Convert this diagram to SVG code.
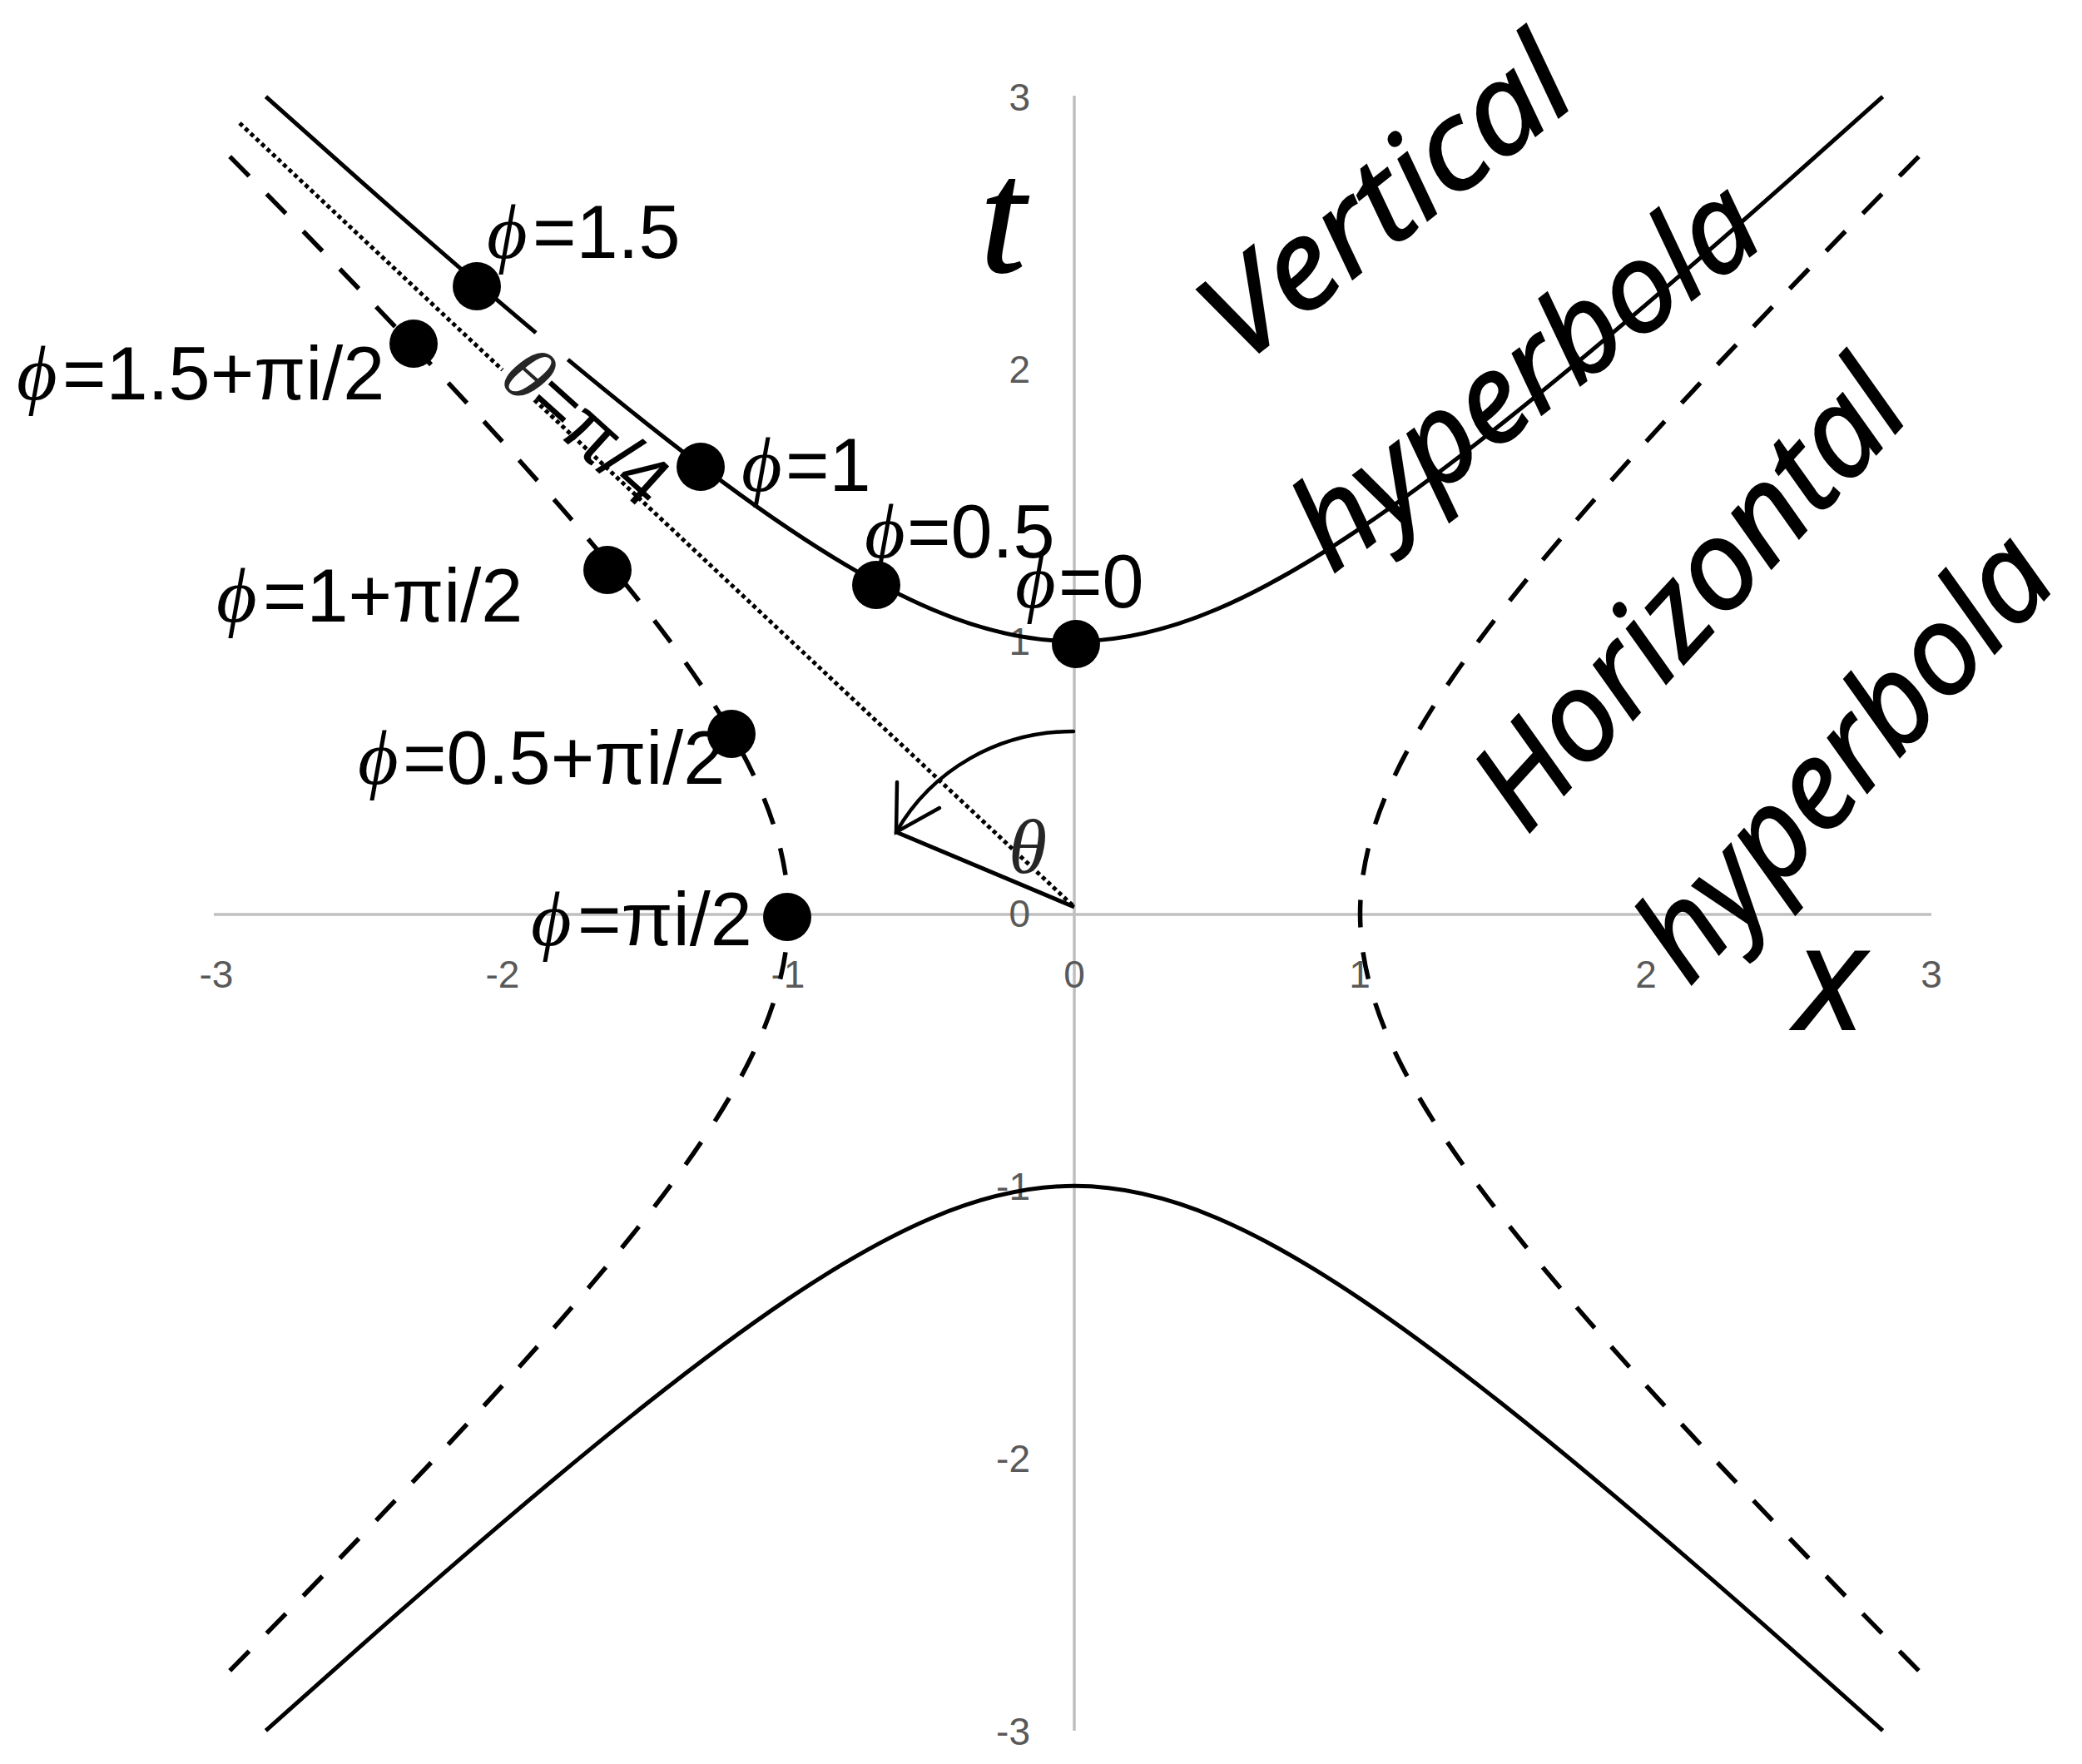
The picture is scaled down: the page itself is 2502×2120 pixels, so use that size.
<svg xmlns="http://www.w3.org/2000/svg" xmlns:xlink="http://www.w3.org/1999/xlink" width="2502" height="2120" viewBox="0 0 2502 2120">
<style>
.ax{stroke:#BFBFBF;stroke-width:3.5;fill:none}
.tick{font-family:"Liberation Sans",Arial,sans-serif;font-size:46px;fill:#595959}
.tx{text-anchor:middle}
.ty{text-anchor:end}
.solid{fill:none;stroke:#000;stroke-width:5}
.dash{fill:none;stroke:#000;stroke-width:5.5;stroke-dasharray:33 30;stroke-dashoffset:16.5}
.dot{fill:none;stroke:#000;stroke-width:5;stroke-dasharray:5 4}
.thin{fill:none;stroke:#000;stroke-width:4.5;stroke-linecap:round}
.pt{fill:#000}
.lbl{font-family:"Liberation Sans",Arial,sans-serif;font-size:90px;fill:#000}
.phi{font-family:"Liberation Serif","DejaVu Serif",serif;font-style:italic;font-size:94px}
.big{font-family:"Open Sans","Noto Sans",sans-serif;font-style:italic;font-size:148px;fill:#000;stroke:#000;stroke-width:2.5}
</style>
<defs>
<path id="vup" d="M319.44,116.1 C357.04,149.88 394.65,183.45 432.25,216.72 C489.5,267.37 546.75,317.36 604,366.15 C661.25,414.94 718.5,462.56 775.75,507.95 C833,553.34 890.25,596.56 947.5,635.13 C1004.75,673.7 1062,707.67 1119.25,732.07 C1176.5,756.47 1233.75,770.7 1291,770.7 C1348.25,770.7 1405.5,756.47 1462.75,732.07 C1520,707.67 1577.25,673.7 1634.5,635.13 C1691.75,596.56 1749,553.34 1806.25,507.95 C1863.5,462.56 1920.75,414.94 1978,366.15 C2035.25,317.36 2092.5,267.37 2149.75,216.72 C2187.35,183.45 2224.96,149.88 2262.56,116.1"/>
<path id="hq" d="M947.5,1098 C947.5,1043.45 932.56,988.9 906.96,934.35 C881.36,879.8 845.7,825.25 805.22,770.7 C764.74,716.15 719.38,661.6 671.75,607.05 C624.12,552.5 574.12,497.95 522.91,443.4 C471.7,388.85 419.26,334.3 366.1,279.75 C331.19,243.92 295.95,208.1 260.5,172.27"/>
</defs>
<rect width="2502" height="2120" fill="#fff"/>
<g id="axes">
<line class="ax" x1="257" y1="1099" x2="2321" y2="1099"/>
<line class="ax" x1="1291" y1="115" x2="1291" y2="2080"/>
</g>
<g id="ticks" class="tick">
<text class="tx" x="260" y="1187">-3</text>
<text class="tx" x="604" y="1187">-2</text>
<text class="tx" x="947" y="1187">-1</text>
<text class="tx" x="1291" y="1187">0</text>
<text class="tx" x="1634" y="1187">1</text>
<text class="tx" x="1978" y="1187">2</text>
<text class="tx" x="2321" y="1187">3</text>
<text class="ty" x="1238" y="133">3</text>
<text class="ty" x="1238" y="460">2</text>
<text class="ty" x="1238" y="787">1</text>
<text class="ty" x="1238" y="1114">0</text>
<text class="ty" x="1238" y="1442">-1</text>
<text class="ty" x="1238" y="1769">-2</text>
<text class="ty" x="1238" y="2097">-3</text>
</g>
<g id="connectors">
<use xlink:href="#vup" href="#vup" class="solid"/>
<use xlink:href="#vup" href="#vup" class="solid" transform="matrix(1 0 0 -1 0 2196)"/>
<use xlink:href="#hq" href="#hq" class="dash"/>
<use xlink:href="#hq" href="#hq" class="dash" transform="matrix(1 0 0 -1 0 2196)"/>
<use xlink:href="#hq" href="#hq" class="dash" transform="matrix(-1 0 0 1 2582 0)"/>
<use xlink:href="#hq" href="#hq" class="dash" transform="matrix(-1 0 0 -1 2582 2196)"/>
<line x1="1077" y1="1000" x2="1291" y2="1090" stroke="#000" stroke-width="5"/>
<path class="thin" d="M1290,879 C1200,879 1120,925 1077,1000"/>
<path class="thin" d="M1078,940 L1077,1000 L1129,971"/>
<g transform="translate(599,459) rotate(42)">
<text class="lbl" font-size="96" x="42" y="0">=π/4</text>
</g>
<line class="dot" x1="288" y1="148" x2="1291" y2="1090"/>
<g transform="translate(599,459) rotate(42)">
<rect x="-6" y="-80" width="50" height="102" fill="#fff"/>
<text class="phi" font-size="90" fill="#262626" x="-2" y="0">θ</text>
</g>
<text class="phi" font-size="95" fill="#262626" x="1212" y="1049">θ</text>
</g>
<g id="axis-labels">
<text x="1178" y="326" font-family="Liberation Serif, serif" font-style="italic" font-size="195" stroke="#000" stroke-width="2">t</text>
<text x="2158" y="1237" font-family="Open Sans, Noto Sans, sans-serif" font-style="italic" font-size="174" stroke="#000" stroke-width="2">x</text>
</g>
<g id="node-phi0"><circle class="pt" cx="1293" cy="774" r="29"/><text class="lbl"><tspan class="phi" x="1220" y="730">ϕ</tspan><tspan x="1272" y="730">=0</tspan></text></g>
<g id="node-phi05"><circle class="pt" cx="1053" cy="703" r="29"/><text class="lbl"><tspan class="phi" x="1039" y="670">ϕ</tspan><tspan x="1090" y="670">=0.5</tspan></text></g>
<g id="node-phi1"><circle class="pt" cx="842" cy="561" r="29"/><text class="lbl"><tspan class="phi" x="891" y="590">ϕ</tspan><tspan x="944" y="590">=1</tspan></text></g>
<g id="node-phi15"><circle class="pt" cx="573" cy="344" r="29"/><text class="lbl"><tspan class="phi" x="585" y="310">ϕ</tspan><tspan x="640" y="310">=1.5</tspan></text></g>
<g id="node-phi15i"><circle class="pt" cx="497" cy="413" r="29"/><text class="lbl"><tspan class="phi" x="20" y="480">ϕ</tspan><tspan x="75" y="480">=1.5+πi/2</tspan></text></g>
<g id="node-phi1i"><circle class="pt" cx="730" cy="685" r="29"/><text class="lbl"><tspan class="phi" x="260" y="747">ϕ</tspan><tspan x="316" y="747">=1+πi/2</tspan></text></g>
<g id="node-phi05i"><circle class="pt" cx="879" cy="882" r="29"/><text class="lbl"><tspan class="phi" x="430" y="942">ϕ</tspan><tspan x="484" y="942">=0.5+πi/2</tspan></text></g>
<g id="node-phii"><circle class="pt" cx="946" cy="1102" r="29"/><text class="lbl"><tspan class="phi" x="638" y="1136">ϕ</tspan><tspan x="694" y="1136">=πi/2</tspan></text></g>
<g id="captions">
<text class="big" transform="translate(1492,440) rotate(-38.1)" textLength="520" lengthAdjust="spacingAndGlyphs">Vertical</text>
<text class="big" transform="translate(1601,690) rotate(-37.3)" textLength="660" lengthAdjust="spacingAndGlyphs">hyperbola</text>
<text class="big" transform="translate(1834,1005) rotate(-47.5)" textLength="690" lengthAdjust="spacingAndGlyphs">Horizontal</text>
<text class="big" transform="translate(2030,1186) rotate(-47.5)" textLength="660" lengthAdjust="spacingAndGlyphs">hyperbola</text>
</g>
</svg>
